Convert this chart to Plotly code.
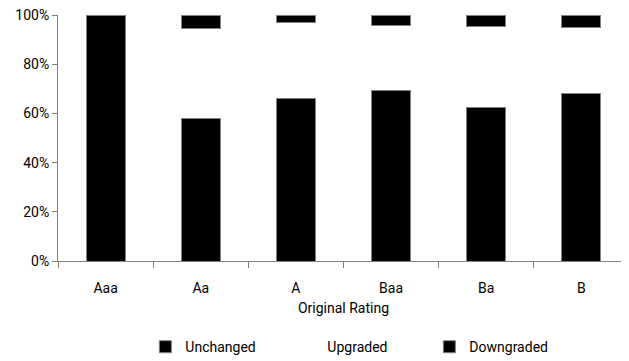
import plotly.graph_objects as go

categories = ["Aaa", "Aa", "A", "Baa", "Ba", "B"]
unchanged = [100.0, 58.1, 66.1, 69.5, 62.5, 68.2]
upgraded = [0.0, 36.5, 30.8, 26.3, 33.0, 26.8]
downgraded = [0.0, 5.4, 3.1, 4.2, 4.5, 5.0]
y_ticks = [0, 20, 40, 60, 80, 100]
y_tick_labels = ["0%", "20%", "40%", "60%", "80%", "100%"]

FONT = "Roboto, sans-serif"
EDGE = "#808080"

fig = go.Figure()
fig.add_trace(go.Bar(name="Unchanged", x=categories, y=unchanged,
                     marker=dict(color="black", line=dict(color=EDGE, width=1))))
fig.add_trace(go.Bar(name="Upgraded", x=categories, y=upgraded,
                     marker=dict(color="white", line=dict(color="white", width=0))))
fig.add_trace(go.Bar(name="Downgraded", x=categories, y=downgraded,
                     marker=dict(color="black", line=dict(color=EDGE, width=1))))

fig.update_layout(
    barmode="stack",
    bargap=0.59,
    width=621, height=353,
    margin=dict(l=50, r=0, t=7, b=100, autoexpand=False),
    paper_bgcolor="white", plot_bgcolor="white",
    font=dict(family=FONT, size=14, color="black"),
    showlegend=True,
    legend=dict(orientation="h", x=0.153, xanchor="left", y=-0.285, yanchor="top",
                font=dict(size=14), traceorder="normal",
                entrywidth=97, entrywidthmode="pixels"),
    xaxis=dict(
        title=dict(text="Original Rating", standoff=8, font=dict(size=14)),
        showline=True, linecolor=EDGE, linewidth=1,
        ticks="outside", tickson="boundaries", ticklen=6, tickcolor=EDGE,
        ticklabelstandoff=14,
        showgrid=False, tickfont=dict(size=14), automargin=False,
    ),
    yaxis=dict(
        range=[0, 100], tickvals=y_ticks, ticktext=y_tick_labels,
        showline=True, linecolor=EDGE, linewidth=1,
        ticks="outside", ticklen=5, tickcolor=EDGE,
        ticklabeloverflow="allow",
        showgrid=False, zeroline=False, tickfont=dict(size=14), automargin=False,
    ),
)

fig.write_html("out.html")
